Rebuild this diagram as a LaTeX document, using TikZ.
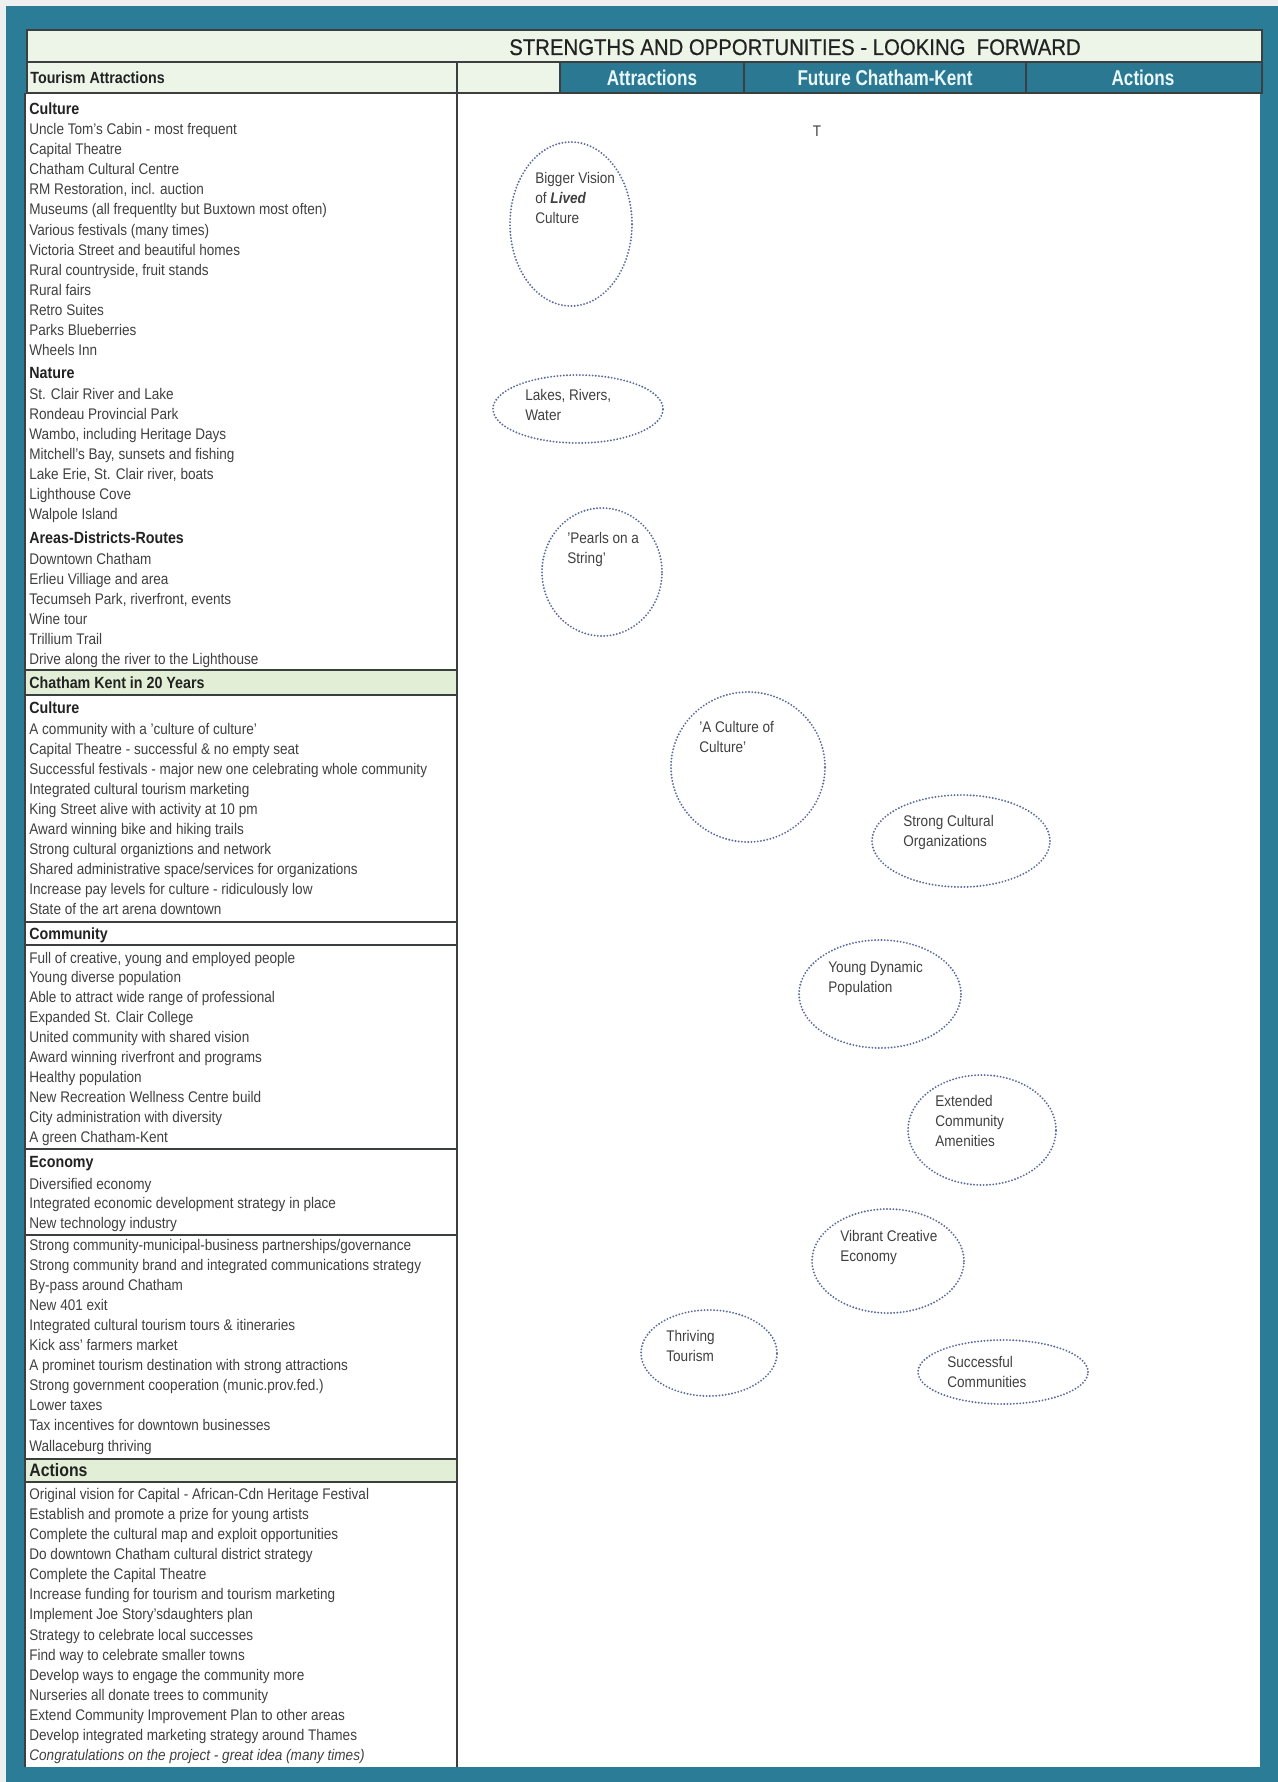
\documentclass[tikz,border=0pt]{standalone}
\usepackage{fontspec}
\setmainfont[FakeStretch=0.88]{Liberation Sans}
\newfontfamily\headfont[FakeStretch=0.8]{Liberation Sans}
\newfontfamily\titlefont[FakeStretch=0.9, FakeBold=0.5]{Liberation Sans}
\usetikzlibrary{shapes.geometric}

\definecolor{paper}{HTML}{EEF0EF}
\definecolor{frameteal}{HTML}{2B7D97}
\definecolor{cellteal}{HTML}{2A7892}
\definecolor{palegreen}{HTML}{EDF5E8}
\definecolor{bandgreen}{HTML}{E2EFD6}
\definecolor{rulegrey}{HTML}{3C3F40}
\definecolor{inkgrey}{HTML}{404040}
\definecolor{headink}{HTML}{222222}
\definecolor{dotblue}{HTML}{5A6C9C}
\definecolor{headwhite}{HTML}{EAF7FB}

\tikzset{
  body/.style={font=\fontsize{7.7}{10}\selectfont, text=inkgrey, inner sep=0pt, anchor=base west},
  head/.style={font=\fontsize{8.1}{10}\selectfont\bfseries, text=headink, inner sep=0pt, anchor=base west},
  bighead/.style={font=\fontsize{9}{10}\selectfont\bfseries, text=headink, inner sep=0pt, anchor=base west},
  colhead/.style={font=\headfont\fontsize{10.7}{12}\selectfont\bfseries, text=headwhite, inner sep=0pt, anchor=base},
  bubble/.style={ellipse, draw=dotblue, line width=1.05pt, line cap=round,
    dash pattern=on 0pt off 1.6pt, inner sep=0pt},
  % multi-line labels: the base anchor sits on the last line
  bubtext/.style={body, align=left, text=inkgrey},
  rule/.style={draw=rulegrey, line width=1.1pt},
  thinrule/.style={draw=rulegrey, line width=0.6pt}
}

\begin{document}
\begin{tikzpicture}[x=0.5pt, y=-0.5pt]
\useasboundingbox (0,0) rectangle (1278,1782);

% sheet, frame and white page
\fill[paper] (0,0) rectangle (1278,1782);
\fill[frameteal] (6,6) rectangle (1278,1782);
\fill[white] (25,93) rectangle (1260,1767);

% title bar
\draw[rule, fill=palegreen] (27,30) rectangle (1262,62);
\node[font=\titlefont\fontsize{11.3}{13}\selectfont, text=headink, inner sep=0pt, anchor=base]
  (title) at (795,55) {STRENGTHS AND OPPORTUNITIES - LOOKING\ \ FORWARD};

% column headings
\fill[palegreen] (27,62) rectangle (560,93);
\fill[cellteal] (560,62) rectangle (1262,93);
\draw[rule] (27,62) rectangle (1262,93);
\draw[thinrule] (744,62) -- (744,93);
\draw[thinrule] (1026,62) -- (1026,93);
\draw[thinrule] (560,62) -- (560,93);
\node[head] (tourhead) at (30,84) {Tourism Attractions};
\node[colhead] (hattr) at (652,86) {Attractions};
\node[colhead] (hfuture) at (885,86) {Future Chatham-Kent};
\node[colhead] (hact) at (1143,86) {Actions};

% left column frame
\draw[rule] (457,62) -- (457,1767);
\draw[thinrule] (25,93) -- (25,1767);
\draw[rule, fill=bandgreen] (25,670) rectangle (457,695);
\draw[rule] (25,922) rectangle (457,945);
\draw[rule] (25,1149) -- (457,1149);
\draw[rule] (25,1235) -- (457,1235);
\draw[rule, fill=bandgreen] (25,1459) rectangle (457,1482);

% Tourism attractions
\node[head] (hculture) at (29,115) {Culture};
\foreach \txt [count=\k from 0] in {Uncle Tom's Cabin - most frequent, Capital Theatre,
  Chatham Cultural Centre, {RM Restoration, incl. auction},
  Museums (all frequentlty but Buxtown most often), Various festivals (many times),
  Victoria Street and beautiful homes, {Rural countryside, fruit stands}, Rural fairs,
  Retro Suites, Parks Blueberries, Wheels Inn}
  \node[body] (tcul\k) at (29,134.5+20.1*\k) {\txt};
\node[head] (hnature) at (29,378) {Nature};
\foreach \txt [count=\k from 0] in {St. Clair River and Lake, Rondeau Provincial Park,
  {Wambo, including Heritage Days}, {Mitchell's Bay, sunsets and fishing},
  {Lake Erie, St. Clair river, boats}, Lighthouse Cove, Walpole Island}
  \node[body] (tnat\k) at (29,399+20.1*\k) {\txt};
\node[head] (hareas) at (29,543) {Areas-Districts-Routes};
\foreach \txt [count=\k from 0] in {Downtown Chatham, Erlieu Villiage and area,
  {Tecumseh Park, riverfront, events}, Wine tour, Trillium Trail,
  Drive along the river to the Lighthouse}
  \node[body] (tarea\k) at (29,564+20.1*\k) {\txt};

% Chatham Kent in 20 years
\node[head] (hyears) at (29,688.5) {Chatham Kent in 20 Years};
\node[head] (hculture2) at (29,713.5) {Culture};
\foreach \txt [count=\k from 0] in {A community with a 'culture of culture',
  Capital Theatre - successful \& no empty seat,
  Successful festivals - major new one celebrating whole community,
  Integrated cultural tourism marketing, King Street alive with activity at 10 pm,
  Award winning bike and hiking trails, Strong cultural organiztions and network,
  {Shared administrative space/services for organizations},
  Increase pay levels for culture - ridiculously low, State of the art arena downtown}
  \node[body] (ycul\k) at (29,734+20.1*\k) {\txt};
\node[head] (hcommunity) at (29,939.5) {Community};
\foreach \txt [count=\k from 0] in {{Full of creative, young and employed people},
  Young diverse population, Able to attract wide range of professional,
  Expanded St. Clair College, United community with shared vision,
  Award winning riverfront and programs, Healthy population,
  New Recreation Wellness Centre build, City administration with diversity,
  A green Chatham-Kent}
  \node[body] (ycom\k) at (29,963+19.9*\k) {\txt};
\node[head] (heconomy) at (29,1167.5) {Economy};
\foreach \txt [count=\k from 0] in {Diversified economy,
  Integrated economic development strategy in place, New technology industry}
  \node[body] (yeco\k) at (29,1189+19.8*\k) {\txt};
\foreach \txt [count=\k from 0] in {{Strong community-municipal-business partnerships/governance},
  Strong community brand and integrated communications strategy,
  By-pass around Chatham, New 401 exit,
  Integrated cultural tourism tours \& itineraries, Kick ass' farmers market,
  A prominet tourism destination with strong attractions,
  Strong government cooperation (munic.prov.fed.), Lower taxes,
  Tax incentives for downtown businesses, Wallaceburg thriving}
  \node[body] (ymore\k) at (29,1250+20.1*\k) {\txt};

% Actions
\node[bighead] (hactions) at (29,1476) {Actions};
\foreach \txt [count=\k from 0] in {Original vision for Capital - African-Cdn Heritage Festival,
  Establish and promote a prize for young artists,
  Complete the cultural map and exploit opportunities,
  Do downtown Chatham cultural district strategy, Complete the Capital Theatre,
  Increase funding for tourism and tourism marketing,
  Implement Joe Story'sdaughters plan, Strategy to celebrate local successes,
  Find way to celebrate smaller towns, Develop ways to engage the community more,
  Nurseries all donate trees to community,
  Extend Community Improvement Plan to other areas,
  Develop integrated marketing strategy around Thames,
  \textit{Congratulations on the project - great idea (many times)}}
  \node[body] (act\k) at (29,1499+20.15*\k) {\txt};

% stray mark in the Future column
\node[body, anchor=base] (tmark) at (817,136) {T};

% bubbles
\node[bubble, minimum width=61pt, minimum height=82pt] (vision) at (571,224) {};
\node[bubtext] (visiontxt) at (535,223) {Bigger Vision\\of \textbf{\textit{Lived}}\\Culture};
\node[bubble, minimum width=85pt, minimum height=34pt] (lakes) at (578,409) {};
\node[bubtext] (lakestxt) at (525,420) {Lakes, Rivers,\\Water};
\node[bubble, minimum width=60pt, minimum height=64pt] (pearls) at (602,572) {};
\node[bubtext] (pearlstxt) at (567,563) {'Pearls on a\\String'};
\node[bubble, minimum width=77pt, minimum height=75pt] (culcul) at (748,767) {};
\node[bubtext] (culcultxt) at (699,752) {'A Culture of\\Culture'};
\node[bubble, minimum width=89pt, minimum height=46pt] (orgs) at (961,841) {};
\node[bubtext] (orgstxt) at (903,846) {Strong Cultural\\Organizations};
\node[bubble, minimum width=81pt, minimum height=54pt] (young) at (880,994) {};
\node[bubtext] (youngtxt) at (828,992) {Young Dynamic\\Population};
\node[bubble, minimum width=74pt, minimum height=55pt] (amen) at (982,1130) {};
\node[bubtext] (amentxt) at (935,1146) {Extended\\Community\\Amenities};
\node[bubble, minimum width=76pt, minimum height=52pt] (econ) at (888,1261) {};
\node[bubtext] (econtxt) at (840,1261) {Vibrant Creative\\Economy};
\node[bubble, minimum width=68pt, minimum height=43pt] (tour) at (709,1353) {};
\node[bubtext] (tourtxt) at (666,1361) {Thriving\\Tourism};
\node[bubble, minimum width=85pt, minimum height=32pt] (succ) at (1003,1372) {};
\node[bubtext] (succtxt) at (947,1387) {Successful\\Communities};
\end{tikzpicture}
\end{document}
